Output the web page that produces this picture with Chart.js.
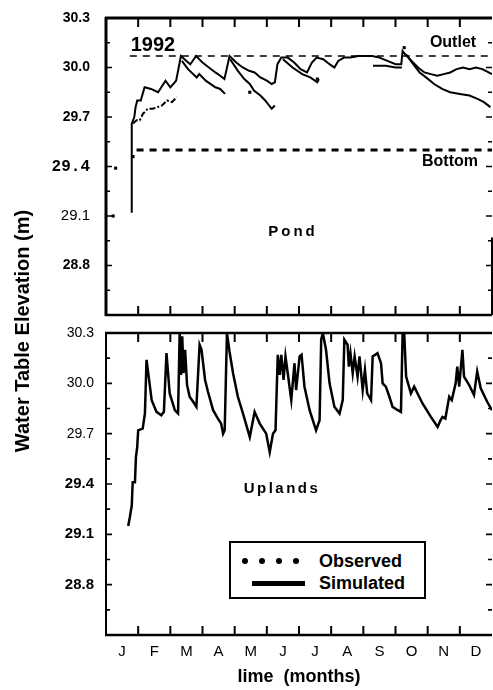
<!DOCTYPE html>
<html>
<head>
<meta charset="utf-8">
<script src="https://cdn.jsdelivr.net/npm/chart.js@4.4.1/dist/chart.umd.min.js"></script>
<style>
  body { margin: 0; background: #fff; }
  #wrap { position: relative; width: 493px; height: 690px; font-family: "Liberation Sans", Arial, sans-serif; color: #000; overflow: hidden; }
  canvas { position: absolute; left: 0; }
  .lbl { position: absolute; font-weight: bold; white-space: nowrap; line-height: 1; transform: translate(-50%, -50%); }
  #ytitle { position: absolute; left: -128px; top: 320px; width: 300px; height: 22px; line-height: 22px; text-align: center;
            font-size: 20px; font-weight: bold; white-space: nowrap; transform: rotate(-90deg); }
  #legend { position: absolute; left: 229px; top: 541px; width: 193px; height: 54px; border: 2px solid #000; background: #fff; }
  #legend .row { position: absolute; left: 0; height: 20px; display: flex; align-items: center; }
  #legend .dot { display: inline-block; width: 6px; height: 6px; border-radius: 50%; background: #000; margin-left: 11px; }
  #legend .txt { position: absolute; left: 88px; font-size: 18px; font-weight: bold; }
</style>
</head>
<body>
<div id="wrap">
  <canvas id="pondChart" width="493" height="322" style="top:0"></canvas>
  <canvas id="uplandChart" width="493" height="370" style="top:320px"></canvas>

  <div id="ytitle">Water Table Elevation (m)</div>
  <div class="lbl" style="left:153px;top:44px;font-size:20px">1992</div>
  <div class="lbl" style="left:453px;top:42px;font-size:16px">Outlet</div>
  <div class="lbl" style="left:450px;top:161px;font-size:16px">Bottom</div>
  <div class="lbl" style="left:293px;top:230px;font-size:15px;letter-spacing:3px">Pond</div>
  <div class="lbl" style="left:282px;top:487px;font-size:15px;letter-spacing:2.5px">Uplands</div>

  <div id="legend">
    <div class="row" style="top:8px;width:80px">
      <span class="dot"></span><span class="dot"></span><span class="dot"></span><span class="dot"></span>
      <span class="txt">Observed</span>
    </div>
    <div class="row" style="top:30px;width:80px">
      <span style="display:inline-block;width:53px;height:5px;background:#000;margin-left:21px"></span>
      <span class="txt">Simulated</span>
    </div>
  </div>
</div>

<script>
// month axis
const monthLabels = ["J", "F", "M", "A", "M", "J", "J", "A", "S", "O", "N", "D"];
const monthCentres = [0.5, 1.5, 2.5, 3.5, 4.5, 5.5, 6.5, 7.5, 8.5, 9.5, 10.5, 11.5];
const monthEdges = [1, 2, 3, 4, 5, 6, 7, 8, 9, 10, 11];

// elevation ticks (m)
const yMajor = [28.8, 29.1, 29.4, 29.7, 30.0, 30.3];
const yMinor = [28.65, 28.95, 29.25, 29.55, 29.85, 30.15];

// pond reference levels
const outletX = [0.74, 12];
const outletY = [30.07, 30.07];
const bottomX = [0.95, 12];
const bottomY = [29.50, 29.50];

// pond simulated (upper line)
const pondSimX = [0.80, 0.80, 0.88, 0.92, 0.97, 1.08, 1.20, 1.40, 1.62, 1.85, 2.00, 2.18, 2.33, 2.50, 2.62, 2.80,
  3.00, 3.20, 3.40, 3.55, 3.68, 3.74, 3.84, 4.05, 4.25, 4.45, 4.62, 4.80, 5.00, 5.15, 5.25, 5.33, 5.45, 5.65,
  5.85, 6.05, 6.25, 6.40, 6.55, 6.75, 6.95, 7.10, 7.22, 7.40, 7.60, 7.85, 8.05, 8.28, 8.50, 8.75, 9.00, 9.18,
  9.22, 9.30, 9.50, 9.70, 9.90, 10.10, 10.30, 10.50, 10.70, 10.90, 11.10, 11.30, 11.50, 11.70, 12.00];
const pondSimY = [29.12, 29.66, 29.70, 29.76, 29.80, 29.80, 29.88, 29.87, 29.85, 29.92, 29.88, 29.92, 30.07, 30.04, 30.02, 30.07,
  30.03, 30.00, 29.97, 29.95, 29.93, 29.98, 30.07, 30.03, 30.00, 29.98, 29.97, 29.94, 29.92, 29.90, 29.91, 30.02, 30.06, 30.06,
  30.03, 29.99, 29.97, 30.03, 30.06, 30.05, 30.02, 30.00, 30.04, 30.06, 30.06, 30.07, 30.07, 30.07, 30.06, 30.04, 30.02, 30.02,
  30.10, 30.08, 30.04, 30.00, 29.97, 29.96, 29.95, 29.96, 29.97, 29.99, 30.00, 29.99, 30.00, 29.99, 29.96];

// pond recession branches (null = break)
const pondLowX = [2.36, 2.55, 2.82, 2.90, 3.10, 3.40, 3.55, 3.70, null,
  3.86, 4.10, 4.30, 4.47, 4.60, 4.80, 4.95, 5.15, 5.25, null,
  5.50, 5.80, 6.10, 6.35, 6.57, 6.62, null,
  8.30, 8.70, 9.00, 9.20, null,
  9.33, 9.55, 9.75, 9.95, 10.20, 10.45, 10.70, 11.00, 11.30, 11.55, 11.75, 11.95];
const pondLowY = [30.04, 29.99, 29.94, 29.96, 29.92, 29.88, 29.87, 29.84, null,
  30.05, 29.98, 29.93, 29.90, 29.86, 29.83, 29.80, 29.75, 29.77, null,
  30.05, 30.00, 29.96, 29.94, 29.91, 29.93, null,
  30.01, 30.01, 30.00, 30.00, null,
  30.08, 30.02, 29.97, 29.94, 29.90, 29.87, 29.85, 29.84, 29.83, 29.81, 29.79, 29.76];

// pond observed
const pondObsLineX = [0.84, 0.95, 1.05, 1.15, 1.30, 1.45, 1.60, 1.74, 1.90, 2.05, 2.20];
const pondObsLineY = [29.66, 29.68, 29.68, 29.72, 29.75, 29.75, 29.76, 29.77, 29.80, 29.79, 29.82];
const pondObsX = [0.22, 0.30, 0.84, 4.47, 6.57, 9.27];
const pondObsY = [29.10, 29.39, 29.46, 29.85, 29.93, 30.12];

// uplands simulated
const uplX = [0.69, 0.74, 0.80, 0.83, 0.90, 0.93, 0.97, 1.00, 1.14, 1.21, 1.26, 1.32, 1.42, 1.57, 1.72, 1.80, 1.88, 1.98,
  2.14, 2.24, 2.29, 2.33, 2.37, 2.41, 2.46, 2.52, 2.60, 2.71, 2.81, 2.91, 2.97, 3.08, 3.17, 3.33, 3.48, 3.58, 3.64,
  3.69, 3.76, 3.84, 3.95, 4.10, 4.26, 4.47, 4.62, 4.78, 4.98, 5.09, 5.19, 5.27, 5.34, 5.40, 5.45, 5.52, 5.58, 5.65,
  5.76, 5.86, 5.91, 6.02, 6.08, 6.17, 6.33, 6.53, 6.64, 6.69, 6.74, 6.84, 6.95, 7.10, 7.26, 7.36, 7.41, 7.51, 7.55,
  7.60, 7.67, 7.73, 7.82, 7.88, 7.98, 8.05, 8.12, 8.24, 8.29, 8.44, 8.55, 8.60, 8.70, 8.81, 8.91, 9.07, 9.17, 9.22,
  9.27, 9.33, 9.48, 9.58, 9.84, 10.10, 10.31, 10.40, 10.46, 10.55, 10.67, 10.75, 10.87, 10.92, 10.98, 11.08, 11.13,
  11.29, 11.44, 11.54, 11.65, 11.85, 12.00];
const uplY = [29.15, 29.20, 29.27, 29.41, 29.41, 29.56, 29.62, 29.72, 29.73, 29.82, 30.14, 30.05, 29.90, 29.83, 29.81, 29.83, 30.18, 29.94,
  29.84, 29.82, 30.30, 30.05, 30.28, 30.06, 30.20, 29.99, 29.92, 29.89, 29.86, 30.23, 30.20, 30.02, 29.95, 29.84, 29.79, 29.76, 29.70,
  29.72, 30.30, 30.19, 30.06, 29.92, 29.82, 29.68, 29.83, 29.76, 29.70, 29.59, 29.70, 29.72, 30.17, 30.05, 30.17, 30.02, 30.16, 30.06,
  29.90, 30.12, 29.96, 30.16, 30.17, 29.98, 29.84, 29.72, 29.78, 30.26, 30.30, 30.20, 30.00, 29.86, 29.82, 29.90, 30.26, 30.23, 30.10,
  30.18, 30.06, 30.16, 30.04, 30.16, 29.96, 30.08, 29.94, 29.90, 30.16, 30.18, 30.12, 30.00, 29.98, 29.92, 29.86, 29.84, 29.83, 30.29,
  30.30, 30.04, 29.94, 29.98, 29.88, 29.80, 29.74, 29.78, 29.80, 29.79, 29.92, 29.90, 30.00, 30.10, 29.98, 30.20, 30.04,
  29.99, 29.93, 30.07, 29.97, 29.89, 29.84];

const FAMILY = '"Liberation Sans", Arial, sans-serif';
const pairs = (xs, ys) => xs.map((x, i) => ({ x: x, y: ys[i] }));
const isMajor = v => yMajor.some(m => Math.abs(m - v) < 1e-6);

// inward tick marks + panel frame
const frameTicks = {
  id: "frameTicks",
  afterDatasetsDraw(chart, args, o) {
    const { ctx, chartArea: a, scales: { x, y } } = chart;
    ctx.save();
    ctx.strokeStyle = "#000";
    ctx.lineWidth = 1.6;
    ctx.beginPath();
    y.ticks.forEach(t => {
      const py = y.getPixelForValue(t.value);
      const len = isMajor(t.value) ? o.yMajorLen : o.yMinorLen;
      ctx.moveTo(a.left, py); ctx.lineTo(a.left + len, py);
      ctx.moveTo(a.right, py); ctx.lineTo(a.right - len, py);
    });
    ctx.stroke();
    ctx.lineWidth = 2;
    ctx.beginPath();
    monthEdges.forEach(m => {
      const px = x.getPixelForValue(m);
      ctx.moveTo(px, a.top); ctx.lineTo(px, a.top + o.xLen);
      ctx.moveTo(px, a.bottom); ctx.lineTo(px, a.bottom - o.xLen);
    });
    ctx.stroke();
    const edge = (w, x1, y1, x2, y2) => {
      if (!w) return;
      ctx.lineWidth = w;
      ctx.beginPath(); ctx.moveTo(x1, y1); ctx.lineTo(x2, y2); ctx.stroke();
    };
    edge(o.top, a.left - 1, a.top, a.right, a.top);
    edge(o.bottom, a.left - 1, a.bottom, a.right, a.bottom);
    edge(o.left, a.left, a.top - 1, a.left, a.bottom + 1);
    if (o.rightTo != null) edge(o.right, a.right, y.getPixelForValue(o.rightTo), a.right, a.bottom);
    ctx.restore();
  }
};

function panelOptions(cfg) {
  return {
    responsive: false,
    animation: false,
    events: [],
    layout: { padding: cfg.padding, autoPadding: false },
    plugins: { legend: { display: false }, tooltip: { enabled: false }, frameTicks: cfg.frame },
    scales: {
      x: {
        type: "linear", min: 0, max: 12,
        grid: { display: false, drawTicks: false },
        border: { display: false },
        afterBuildTicks: s => { s.ticks = monthCentres.map(v => ({ value: v })); },
        afterFit: s => { s.height = cfg.xHeight; s.paddingLeft = 0; s.paddingRight = 0; },
        ticks: {
          display: cfg.showMonths,
          autoSkip: false, maxRotation: 0, padding: 8, color: "#000",
          font: { family: FAMILY, size: 15 },
          callback: (v, i) => monthLabels[i]
        },
        title: {
          display: cfg.showMonths, text: "lime  (months)", color: "#000",
          font: { family: FAMILY, size: 18, weight: "bold" },
          padding: { top: 0, bottom: 2 }
        }
      },
      y: {
        type: "linear", min: 28.5, max: 30.3,
        grid: { display: false, drawTicks: false },
        border: { display: false },
        afterBuildTicks: s => { s.ticks = yMinor.concat(yMajor).sort((a, b) => a - b).map(v => ({ value: v })); },
        afterFit: s => { s.width = 106; s.paddingTop = 0; s.paddingBottom = 0; },
        ticks: {
          autoSkip: false, padding: cfg.yPad, color: "#000",
          font: cfg.yFont,
          callback: v => (isMajor(v) ? v.toFixed(1) : "")
        }
      }
    }
  };
}

const lineStyle = (w, dash) => ({ showLine: true, borderColor: "#000", borderWidth: w, borderDash: dash || [], pointRadius: 0, tension: 0, fill: false });

new Chart(document.getElementById("pondChart"), {
  type: "line",
  data: {
    datasets: [
      Object.assign({ label: "Outlet", data: pairs(outletX, outletY) }, lineStyle(1.6, [7, 6])),
      Object.assign({ label: "Bottom", data: pairs(bottomX, bottomY) }, lineStyle(3, [7, 6])),
      Object.assign({ label: "Simulated", data: pairs(pondSimX, pondSimY) }, lineStyle(2)),
      Object.assign({ label: "Simulated recession", data: pairs(pondLowX, pondLowY) }, lineStyle(2)),
      Object.assign({ label: "Observed", data: pairs(pondObsLineX, pondObsLineY) }, lineStyle(2, [6, 2, 2, 2])),
      { label: "Observed points", data: pairs(pondObsX, pondObsY), showLine: false, pointStyle: "rect",
        pointRadius: 2.2, backgroundColor: "#000", borderColor: "#000", borderWidth: 0 }
    ]
  },
  options: panelOptions({
    padding: { left: 0, top: 18, right: 1, bottom: 7 },
    showMonths: false,
    xHeight: 0,
    yPad: 16,
    yFont: c => {
      const v = c.tick ? c.tick.value : 0;
      if (Math.abs(v - 29.4) < 1e-6) return { family: '"Liberation Mono", monospace', size: 16, weight: "bold" };
      if (Math.abs(v - 29.1) < 1e-6) return { family: FAMILY, size: 15, weight: "normal" };
      return { family: FAMILY, size: 14, weight: "bold" };
    },
    frame: { top: 3, bottom: 2.5, left: 3, right: 2, rightTo: 28.97, yMajorLen: 6, yMinorLen: 4, xLen: 9 }
  }),
  plugins: [frameTicks]
});

new Chart(document.getElementById("uplandChart"), {
  type: "line",
  data: {
    datasets: [
      Object.assign({ label: "Simulated", data: pairs(uplX, uplY) }, lineStyle(2.5))
    ]
  },
  options: panelOptions({
    padding: { left: 0, top: 13, right: 1, bottom: 0 },
    showMonths: true,
    xHeight: 55,
    yPad: 12,
    yFont: c => {
      const v = c.tick ? c.tick.value : 0;
      return v < 29.5 ? { family: FAMILY, size: 15, weight: "bold" } : { family: FAMILY, size: 14, weight: "normal" };
    },
    frame: { top: 2.5, bottom: 2.5, left: 2, right: 0, rightTo: null, yMajorLen: 6, yMinorLen: 4, xLen: 9 }
  }),
  plugins: [frameTicks]
});
</script>
</body>
</html>
